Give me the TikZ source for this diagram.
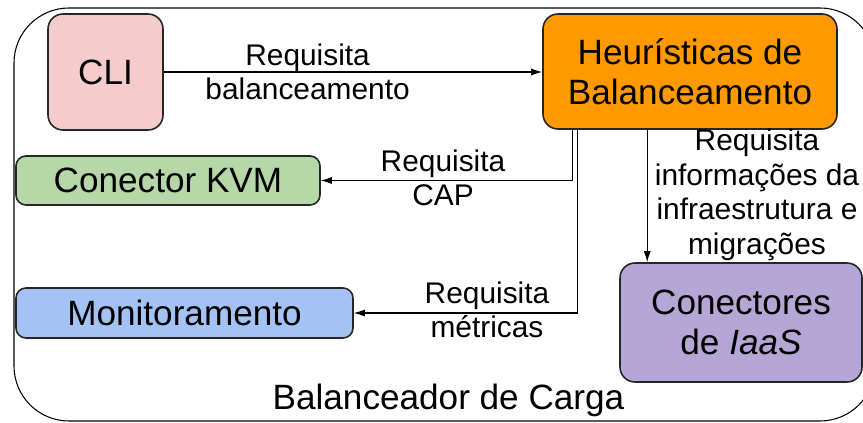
\documentclass[tikz,border=0pt]{standalone}
\usepackage{fontspec}
\setmainfont{Liberation Sans}
\usetikzlibrary{arrows.meta}

\definecolor{cliPink}{HTML}{F4CCCC}
\definecolor{heurOrange}{HTML}{FF9900}
\definecolor{kvmGreen}{HTML}{B6D7A8}
\definecolor{monBlue}{HTML}{A4C2F4}
\definecolor{iaasPurple}{HTML}{B4A7D6}

\begin{document}
\begin{tikzpicture}[
  box/.style={draw=black!85,rounded corners=0.3cm,line width=0.9pt,inner sep=0pt,align=center,font=\fontsize{20}{23}\selectfont},
  lbl/.style={align=center,font=\fontsize{17}{19.7}\selectfont},
  arr/.style={-{Latex[length=2.2mm,width=1.4mm]},line width=0.6pt}
]

\useasboundingbox (0,0) rectangle (17.26,-8.46);

% contorno do balanceador
\node[draw,rounded corners=1.1cm,line width=0.6pt,minimum width=17.22cm,minimum height=8.26cm] (frame) at (8.89,-4.29) {};
\node[font=\fontsize{20}{23}\selectfont] (title) at (8.97,-8.0) {Balanceador de Carga};

% componentes
\node[box,fill=cliPink,minimum width=2.3cm,minimum height=2.32cm] (cli) at (2.11,-1.44) {CLI};
\node[box,fill=heurOrange,minimum width=5.88cm,minimum height=2.3cm] (heur) at (13.8,-1.43) {Heurísticas de\\Balanceamento};
\node[box,fill=kvmGreen,rounded corners=0.2cm,minimum width=6.08cm,minimum height=0.98cm] (kvm) at (3.36,-3.61) {Conector KVM};
\node[box,fill=monBlue,rounded corners=0.2cm,minimum width=6.74cm,minimum height=1cm] (mon) at (3.69,-6.26) {Monitoramento};
\node[box,fill=iaasPurple,minimum width=4.84cm,minimum height=2.38cm] (iaas) at (14.82,-6.45) {Conectores\\de \textit{IaaS}};

% saidas das heuristicas
\coordinate (tapKvm) at ([xshift=0.6cm]heur.south west);
\coordinate (tapMon) at ([xshift=0.7cm]heur.south west);
\coordinate (tapIaas) at ([xshift=2.1cm]heur.south west);

\draw[arr] (cli.east) -- node[lbl,pos=0.38]{Requisita\\balanceamento} (cli.east -| heur.west);
\draw[arr] (tapKvm) |- (kvm.east);
\draw[arr] (tapMon) |- (mon.east);
\draw[arr] (tapIaas) -- (tapIaas |- iaas.north);

% rotulos
\node[lbl] (capLbl) at (8.86,-3.56) {Requisita\\CAP};
\node[lbl] (metLbl) at (9.74,-6.2) {Requisita\\métricas};
\node[lbl] (infLbl) at (15.14,-3.9) {Requisita\\informações da\\infraestrutura e\\migrações};

\end{tikzpicture}
\end{document}
